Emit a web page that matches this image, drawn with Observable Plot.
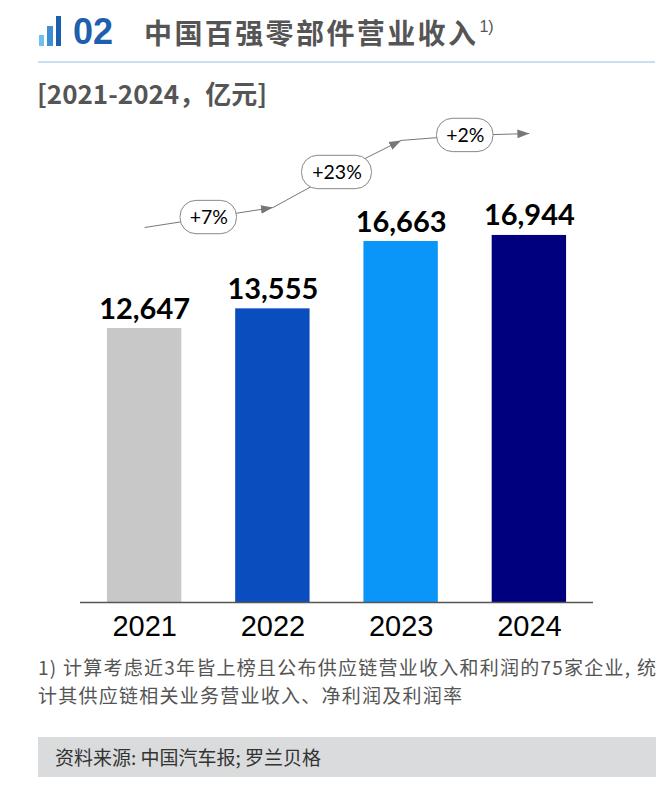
<!DOCTYPE html>
<html><head><meta charset="utf-8">
<script src="https://cdn.jsdelivr.net/npm/d3@7"></script>
<script src="https://cdn.jsdelivr.net/npm/@observablehq/plot@0.6"></script>
<style>
body{margin:0;background:#fff;width:669px;height:789px;position:relative;overflow:hidden;font-family:"Noto Sans CJK SC","Liberation Sans",sans-serif}
.abs{position:absolute}
#chart{position:absolute;left:0;top:112px}
.fn{position:absolute;left:38px;font-size:19px;line-height:27px;letter-spacing:1.25px;color:#555;white-space:nowrap}
</style></head><body>
<div class="abs" style="left:39px;top:35px;width:5px;height:11px;background:#6ec1ea"></div>
<div class="abs" style="left:47px;top:26px;width:6px;height:20px;background:#3c8fd2"></div>
<div class="abs" style="left:56px;top:16px;width:5px;height:30px;background:#1c5fae"></div>
<div class="abs" style="left:73px;top:10px;font-family:'Liberation Sans',Arial,sans-serif;font-weight:bold;font-size:36px;line-height:44px;color:#1f5fae">02</div>
<div class="abs" style="left:144px;top:12px;font-weight:bold;font-size:28px;line-height:40px;letter-spacing:2.4px;color:#555">中国百强零部件营业收入<span style="font-family:'Liberation Sans',sans-serif;font-weight:normal;font-size:16px;position:relative;top:-12px;letter-spacing:0;margin-left:1px">1)</span></div>
<div class="abs" style="left:38px;top:61px;width:617px;height:1.5px;background:#c6ddf2"></div>
<div class="abs" style="left:37px;top:75px;font-weight:bold;font-size:26px;line-height:36px;color:#555">[2021-2024，亿元]</div>
<div id="chart"></div>
<div class="fn" style="top:653px">1) 计算考虑近3年皆上榜且公布供应链营业收入和利润的75家企业, 统</div>
<div class="fn" style="top:681px">计其供应链相关业务营业收入、净利润及利润率</div>
<div class="abs" style="left:38px;top:737px;width:618px;height:40px;background:#dadbdc"></div>
<div class="abs" style="left:55px;top:743px;font-size:19px;line-height:28px;color:#333">资料来源: 中国汽车报; 罗兰贝格</div>
<script>
const years = [2021, 2022, 2023, 2024];
const revenue = [12647, 13555, 16663, 16944];
const barColors = ["#c8c8c8", "#0a4dbe", "#0a96f8", "#00007f"];
// stylised trend arrow levels (in 亿元 units), at half-year steps from 2021
const trendLevels = [17310, 17770, 18230, 19850, 21330, 21560, 21650];

const data = years.map((year, i) => ({year, value: revenue[i]}));
const growth = years.slice(1).map((year, i) => {
  const g = Math.round((revenue[i + 1] / revenue[i] - 1) * 100);
  return {prev: years[i], year, label: (g >= 0 ? "+" : "") + g + "%", level: trendLevels[2 * i + 1]};
});
const trendPts = trendLevels.map((v, i) => ({x: years[0] + i / 2, y: v}));
const segs = trendPts.slice(1).map((p, i) => ({x1: trendPts[i].x, y1: trendPts[i].y, x2: p.x, y2: p.y, arrow: i % 2 === 1}));

const W = 669, ML = 80, MR = 76;
const stepPx = (W - ML - MR) / years.length;
const boxW = s => 16 + 13.5 * s.length;
const fmt = d3.format(",");

const chart = Plot.plot({
  width: W,
  height: 535,
  marginLeft: ML,
  marginRight: MR,
  marginTop: 8,
  marginBottom: 45,
  x: {type: "linear", domain: [years[0] - 0.5, years[years.length - 1] + 0.5]},
  y: {domain: [0, 22250], axis: null},
  color: {type: "ordinal", domain: years, range: barColors},
  marks: [
    Plot.rectY(data, {x1: d => d.year - 0.29, x2: d => d.year + 0.29, y: "value", fill: "year"}),
    Plot.ruleY([0], {stroke: "#555", strokeWidth: 1.3}),
    Plot.axisX({ticks: years, tickFormat: d => String(d), tickSize: 0, tickPadding: 13, fontSize: 29, fontFamily: "Liberation Sans, Arial, sans-serif", fill: "#000", label: null}),
    Plot.text(data, {x: "year", y: "value", text: d => fmt(d.value), dy: -10, lineAnchor: "bottom", fontSize: 29, fontWeight: "bold", fontFamily: "Lato, sans-serif", fill: "#000"}),
    Plot.link(segs.filter(d => !d.arrow), {x1: "x1", y1: "y1", x2: "x2", y2: "y2", stroke: "#777", strokeWidth: 1}),
    Plot.link(segs.filter(d => d.arrow), {x1: "x1", y1: "y1", x2: "x2", y2: "y2", stroke: "#777", strokeWidth: 1, markerEnd: "arrow"}),
    ...growth.map(g => {
      const inset = (stepPx - boxW(g.label)) / 2;
      return Plot.rect([g], {x1: "prev", x2: "year", y1: d => d.level - 770, y2: d => d.level + 770, insetLeft: inset, insetRight: inset, fill: "#fff", stroke: "#888", strokeWidth: 1, rx: 16});
    }),
    Plot.text(growth, {x: d => (d.prev + d.year) / 2, y: "level", text: "label", fontSize: 19.5, fontFamily: "Lato, sans-serif", fill: "#000"})
  ]
});
document.getElementById("chart").appendChild(chart);
chart.querySelectorAll("marker").forEach(m => {
  m.setAttribute("viewBox", "-10 -5 10 10");
  m.setAttribute("markerWidth", 12);
  m.setAttribute("markerHeight", 12);
  m.setAttribute("fill", "#777");
  m.setAttribute("stroke", "none");
  m.querySelectorAll("path").forEach(p => p.setAttribute("d", "M-10,-3.6L0,0L-10,3.6Z"));
});
</script>
</body></html>
